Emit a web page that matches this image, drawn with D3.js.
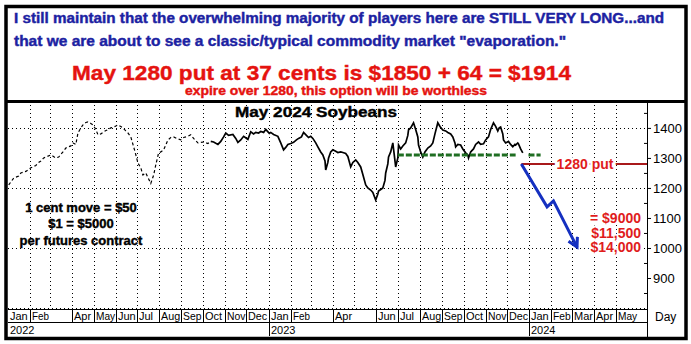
<!DOCTYPE html>
<html><head><meta charset="utf-8">
<script src="https://cdn.jsdelivr.net/npm/d3@7"></script>
<style>
html,body{margin:0;padding:0;background:#fff;}
svg{display:block;font-family:"Liberation Sans",Arial,sans-serif;}
</style></head><body>
<svg id="chart" width="691" height="344"></svg>
<script>
// May 2024 soybean futures, settlement prices (cents/bushel)
const tradeDates = [
 "2022-01-02","2022-01-09","2022-01-16","2022-01-19","2022-01-26","2022-02-02","2022-02-09","2022-02-12",
 "2022-02-16","2022-02-20","2022-02-25","2022-03-02","2022-03-09","2022-03-13","2022-03-19","2022-03-23",
 "2022-03-30","2022-04-02","2022-04-06","2022-04-09","2022-04-13","2022-04-16","2022-04-20","2022-04-23",
 "2022-04-27","2022-04-30","2022-05-04","2022-05-07","2022-05-11","2022-05-15","2022-05-19","2022-05-25",
 "2022-05-31","2022-06-04","2022-06-08","2022-06-11","2022-06-15","2022-06-18","2022-06-22","2022-06-25",
 "2022-06-28","2022-07-02","2022-07-06","2022-07-09","2022-07-13","2022-07-17","2022-07-20","2022-07-24",
 "2022-07-27","2022-07-31","2022-08-03","2022-08-07","2022-08-13","2022-08-17","2022-08-21","2022-08-25",
 "2022-08-31","2022-09-04","2022-09-10","2022-09-14","2022-09-18","2022-09-24","2022-09-28","2022-10-02",
 "2022-10-08","2022-10-12",
 "2022-10-16","2022-10-22","2022-10-26","2022-10-30","2022-11-02","2022-11-06","2022-11-12","2022-11-16",
 "2022-11-19","2022-11-23","2022-11-27","2022-12-03","2022-12-07","2022-12-11","2022-12-14","2022-12-18",
 "2022-12-21","2022-12-25","2022-12-28","2023-01-02","2023-01-04","2023-01-08","2023-01-14","2023-01-18",
 "2023-01-22","2023-01-25","2023-01-28","2023-02-01","2023-02-05","2023-02-09","2023-02-12","2023-02-16",
 "2023-02-19","2023-02-23","2023-02-26","2023-03-01","2023-03-04","2023-03-08","2023-03-11","2023-03-15",
 "2023-03-18","2023-03-21","2023-03-22","2023-03-25","2023-03-26","2023-03-29","2023-04-01","2023-04-05",
 "2023-04-08","2023-04-12","2023-04-15","2023-04-19","2023-04-22","2023-04-26","2023-04-29","2023-05-03",
 "2023-05-06","2023-05-10","2023-05-13","2023-05-17","2023-05-20","2023-05-24","2023-05-27","2023-05-31",
 "2023-06-03","2023-06-04","2023-06-07","2023-06-10","2023-06-13","2023-06-14","2023-06-17","2023-06-18",
 "2023-06-21","2023-06-24","2023-06-25","2023-06-28","2023-07-01","2023-07-02","2023-07-05","2023-07-08",
 "2023-07-12","2023-07-15","2023-07-16","2023-07-19","2023-07-23","2023-07-26","2023-07-29","2023-07-30",
 "2023-08-02","2023-08-05","2023-08-08","2023-08-12","2023-08-16","2023-08-19","2023-08-22","2023-08-26",
 "2023-08-29","2023-09-02","2023-09-06","2023-09-09","2023-09-13","2023-09-16","2023-09-19","2023-09-20",
 "2023-09-23","2023-09-27","2023-09-30","2023-10-04","2023-10-07","2023-10-08","2023-10-11","2023-10-15",
 "2023-10-18","2023-10-22","2023-10-25","2023-10-29","2023-11-01","2023-11-05","2023-11-08","2023-11-12",
 "2023-11-15","2023-11-18","2023-11-20","2023-11-22","2023-11-25","2023-11-26","2023-11-29","2023-12-03",
 "2023-12-06","2023-12-09","2023-12-12","2023-12-13","2023-12-16","2023-12-17","2023-12-20","2023-12-23"
];
const settles = [
 1210,1233,1240,1250,1255,1267,1275,1283,
 1290,1300,1305,1310,1300,1303,1320,1333,
 1340,1350,1345,1383,1400,1410,1418,1420,
 1415,1410,1395,1377,1380,1387,1392,1400,
 1405,1410,1405,1400,1390,1383,1370,1345,
 1320,1283,1267,1243,1250,1230,1215,1243,
 1277,1317,1320,1327,1360,1368,1370,1365,
 1360,1368,1372,1377,1365,1350,1352,1353,
 1348,1355,
 1353,1345,1355,1370,1383,1375,1378,1365,
 1352,1360,1372,1362,1387,1380,1385,1383,
 1388,1385,1395,1382,1385,1378,1372,1350,
 1327,1335,1345,1348,1352,1360,1365,1370,
 1385,1375,1368,1372,1365,1350,1337,1320,
 1310,1290,1260,1285,1300,1320,1327,1322,
 1318,1320,1318,1315,1305,1270,1285,1293,
 1285,1270,1245,1210,1200,1193,1185,1160,
 1180,1190,1195,1200,1225,1250,1280,1303,
 1320,1350,1330,1270,1300,1343,1330,1340,
 1350,1375,1393,1400,1417,1395,1370,1343,
 1320,1303,1320,1333,1340,1350,1380,1417,
 1405,1393,1390,1385,1380,1370,1350,1337,
 1345,1343,1330,1317,1310,1300,1320,1330,
 1345,1353,1345,1347,1360,1370,1395,1417,
 1405,1390,1400,1403,1380,1360,1350,1355,
 1345,1337,1345,1343,1350,1347,1330,1317
];
// thinly traded period drawn as a broken line
const thinTradingUntil = "2022-10-12";

const yTickValues = [900, 1000, 1100, 1200, 1300, 1400];
const yMinorTicks = [850, 950, 1050, 1150, 1250, 1350, 1450];
const gridLevels = [800, 1000, 1200, 1400];
const unlabeledMonths = ["2022-03", "2023-03", "2023-05"];
const yearLabels = ["2022", "2023", "2024"];

const supportLevel = 1310;
const supportSpans = [["2023-07-01", "2023-12-13"], ["2023-12-31", "2024-01-17"]];
const putStrike = 1280;
const putFrom = "2023-12-21";
const projDates = ["2023-12-21", "2024-01-26", "2024-02-04", "2024-03-08"];
const projPrices = [1280, 1137, 1157, 1003];
const lossLabels = ["= $9000", "$11,500", "$14,000"];
const lossLevels = [1100, 1050, 1002];

const headerLines = [
  "I still maintain that the overwhelming majority of players here are STILL VERY LONG...and",
  "that we are about to see a classic/typical commodity market \"evaporation.\"",
  "May 1280 put at 37 cents is $1850 + 64 = $1914",
  "expire over 1280, this option will be worthless"
];
const chartTitle = "May 2024 Soybeans";
const noteLines = ["1 cent move = $50", "$1 = $5000", "per futures contract"];

const parse = d3.timeParse("%Y-%m-%d");
const svg = d3.select("#chart");

const plotL = 8, plotR = 647, plotT = 103, plotB = 308;
const x = d3.scaleTime().domain([new Date(2022, 0, 1), new Date(2024, 5, 14)]).range([plotL, plotR]);
const y = d3.scaleLinear().domain([800, 1483]).range([plotB, plotT]);

svg.append("rect").attr("width", 691).attr("height", 344).attr("fill", "#fff");

svg.append("defs").append("clipPath").attr("id", "plotclip")
  .append("rect").attr("x", plotL).attr("y", plotT).attr("width", plotR - plotL).attr("height", plotB - plotT + 1);

// dotted grid
const grid = svg.append("g").attr("stroke", "#000").attr("stroke-width", 1).attr("stroke-dasharray", "1,3");
const monthStarts = d3.timeMonth.range(new Date(2022, 1, 1), new Date(2024, 5, 1));
grid.selectAll("line.v").data(monthStarts).join("line")
  .attr("x1", d => Math.round(x(d)) + 0.5).attr("x2", d => Math.round(x(d)) + 0.5)
  .attr("y1", plotT + 2).attr("y2", plotB);
grid.selectAll("line.h").data(gridLevels).join("line")
  .attr("x1", plotL).attr("x2", plotR)
  .attr("y1", d => Math.round(y(d)) + 0.5).attr("y2", d => Math.round(y(d)) + 0.5);

// price line
const pts = tradeDates.map((d, i) => ({ date: parse(d), v: settles[i] }));
const cut = parse(thinTradingUntil);
const thin = pts.filter(p => p.date <= cut);
const active = pts.filter(p => p.date >= cut);
const line = d3.line().x(p => x(p.date)).y(p => y(p.v));
const plot = svg.append("g").attr("clip-path", "url(#plotclip)");
plot.append("path").attr("d", line(thin)).attr("fill", "none")
  .attr("stroke", "#000").attr("stroke-width", 1.2).attr("stroke-dasharray", "3,2.5");
plot.append("path").attr("d", line(active)).attr("fill", "none")
  .attr("stroke", "#000").attr("stroke-width", 1.7).attr("stroke-linejoin", "miter");

// support level
plot.selectAll("line.sup").data(supportSpans).join("line")
  .attr("x1", d => x(parse(d[0]))).attr("x2", d => x(parse(d[1])))
  .attr("y1", y(supportLevel)).attr("y2", y(supportLevel))
  .attr("stroke", "#1f6e22").attr("stroke-width", 3).attr("stroke-dasharray", "6,2");

// put strike line
svg.append("line").attr("x1", x(parse(putFrom))).attr("x2", plotR)
  .attr("y1", y(putStrike)).attr("y2", y(putStrike))
  .attr("stroke", "#a8191b").attr("stroke-width", 2);
svg.append("text").attr("x", 585).attr("y", y(putStrike)).attr("dy", "0.36em")
  .attr("text-anchor", "middle").attr("font-weight", "bold").attr("font-size", 14)
  .attr("fill", "#e01c1c").attr("stroke", "#fff").attr("stroke-width", 5).attr("paint-order", "stroke")
  .text(putStrike + " put");

// projected decline arrow
const defs = svg.select("defs");
defs.append("marker").attr("id", "arrowhead").attr("markerUnits", "userSpaceOnUse")
  .attr("markerWidth", 14).attr("markerHeight", 14).attr("refX", 10).attr("refY", 6)
  .attr("orient", "auto")
  .append("path").attr("d", "M1,1 L10,6 L1,11").attr("fill", "none")
  .attr("stroke", "#1530c0").attr("stroke-width", 3);
const proj = projDates.map((d, i) => ({ date: parse(d), v: projPrices[i] }));
svg.append("path").attr("d", line(proj)).attr("fill", "none")
  .attr("stroke", "#1530c0").attr("stroke-width", 3).attr("stroke-linejoin", "miter")
  .attr("marker-end", "url(#arrowhead)");

// loss figures
svg.selectAll("text.loss").data(lossLabels).join("text")
  .attr("x", 641).attr("y", (d, i) => y(lossLevels[i])).attr("dy", "0.36em")
  .attr("text-anchor", "end").attr("font-weight", "bold").attr("font-size", 14)
  .attr("fill", "#e01c1c").attr("stroke", "#fff").attr("stroke-width", 3).attr("paint-order", "stroke")
  .text(d => d);

// chart title
svg.append("text").attr("x", 235).attr("y", 117).attr("font-weight", "bold").attr("font-size", 15)
  .attr("textLength", 162).attr("lengthAdjust", "spacingAndGlyphs").attr("fill", "#000")
  .attr("stroke", "#000").attr("stroke-width", 0.4).text(chartTitle);

// contract-size note
svg.selectAll("text.note").data(noteLines).join("text")
  .attr("x", 81).attr("y", (d, i) => [212, 228, 245][i]).attr("text-anchor", "middle")
  .attr("font-weight", "bold").attr("font-size", 13).attr("fill", "#000")
  .attr("stroke", "#000").attr("stroke-width", 0.4).text(d => d);

// y axis on the right
const yAxis = svg.append("g").attr("transform", `translate(${plotR},0)`)
  .call(d3.axisRight(y).tickValues(yTickValues).tickSize(4).tickPadding(2).tickFormat(d3.format("d")));
yAxis.select(".domain").remove();
yAxis.selectAll("text").attr("font-size", 13).attr("font-family", "Liberation Sans, Arial, sans-serif");
const yMinor = svg.append("g").attr("transform", `translate(${plotR},0)`)
  .call(d3.axisLeft(y).tickValues(yMinorTicks).tickSize(3).tickFormat(""));
yMinor.select(".domain").remove();
svg.append("line").attr("x1", plotR + 0.5).attr("x2", plotR + 0.5).attr("y1", plotT).attr("y2", 338)
  .attr("stroke", "#000").attr("stroke-width", 1);

// time axis: month row and year row
svg.append("line").attr("x1", plotL).attr("x2", plotR).attr("y1", 309.5).attr("y2", 309.5).attr("stroke", "#000");
svg.append("line").attr("x1", plotL).attr("x2", plotR).attr("y1", 322.5).attr("y2", 322.5).attr("stroke", "#000");
const fmtKey = d3.timeFormat("%Y-%m");
const labeledMonths = d3.timeMonth.range(new Date(2022, 0, 1), new Date(2024, 5, 1))
  .filter(d => !unlabeledMonths.includes(fmtKey(d)));
const mAxis = svg.append("g").attr("font-size", 11);
labeledMonths.forEach(d => {
  const px = Math.round(x(d)) + 0.5;
  const next = d3.timeMonth.offset(d, 1);
  const room = x(next) - x(d) - 3;
  if (d > new Date(2022, 0, 1)) {
    mAxis.append("line").attr("x1", px).attr("x2", px).attr("y1", 310).attr("y2", 322).attr("stroke", "#000");
  }
  const t = mAxis.append("text").attr("x", px + 1.5).attr("y", 320).attr("fill", "#000").text(d3.timeFormat("%b")(d));
  const w = t.node().getComputedTextLength();
  if (w > room) t.attr("textLength", room).attr("lengthAdjust", "spacingAndGlyphs");
});
yearLabels.forEach(yr => {
  const d = new Date(+yr, 0, 1);
  const px = Math.round(x(d)) + 0.5;
  if (yr !== yearLabels[0]) {
    svg.append("line").attr("x1", px).attr("x2", px).attr("y1", 323).attr("y2", 336).attr("stroke", "#000");
  }
  svg.append("text").attr("x", px + 1.5).attr("y", 334).attr("font-size", 11).attr("fill", "#000").text(yr);
});
svg.append("text").attr("x", 655).attr("y", 321).attr("font-size", 12).attr("fill", "#000").text("Day");

// header commentary
const hdr = [
  { x: 14, y: 23, len: 650, size: 14, color: "#1c22a2" },
  { x: 14, y: 46, len: 552, size: 14, color: "#1c22a2" },
  { x: 72, y: 80, len: 499, size: 21, color: "#e5130f" },
  { x: 185, y: 95, len: 302, size: 12, color: "#e5130f" }
];
svg.selectAll("text.hdr").data(headerLines).join("text")
  .attr("x", (d, i) => hdr[i].x).attr("y", (d, i) => hdr[i].y)
  .attr("font-size", (d, i) => hdr[i].size).attr("font-weight", "bold")
  .attr("fill", (d, i) => hdr[i].color)
  .attr("stroke", (d, i) => hdr[i].color).attr("stroke-width", 0.4)
  .attr("textLength", (d, i) => hdr[i].len).attr("lengthAdjust", "spacingAndGlyphs")
  .text(d => d);

// frame
svg.append("rect").attr("x", 6).attr("y", 6.5).attr("width", 680).attr("height", 332)
  .attr("fill", "none").attr("stroke", "#000").attr("stroke-width", 3.5);
svg.append("line").attr("x1", 6).attr("x2", 686).attr("y1", 101.5).attr("y2", 101.5)
  .attr("stroke", "#000").attr("stroke-width", 3);
</script>
</body></html>
